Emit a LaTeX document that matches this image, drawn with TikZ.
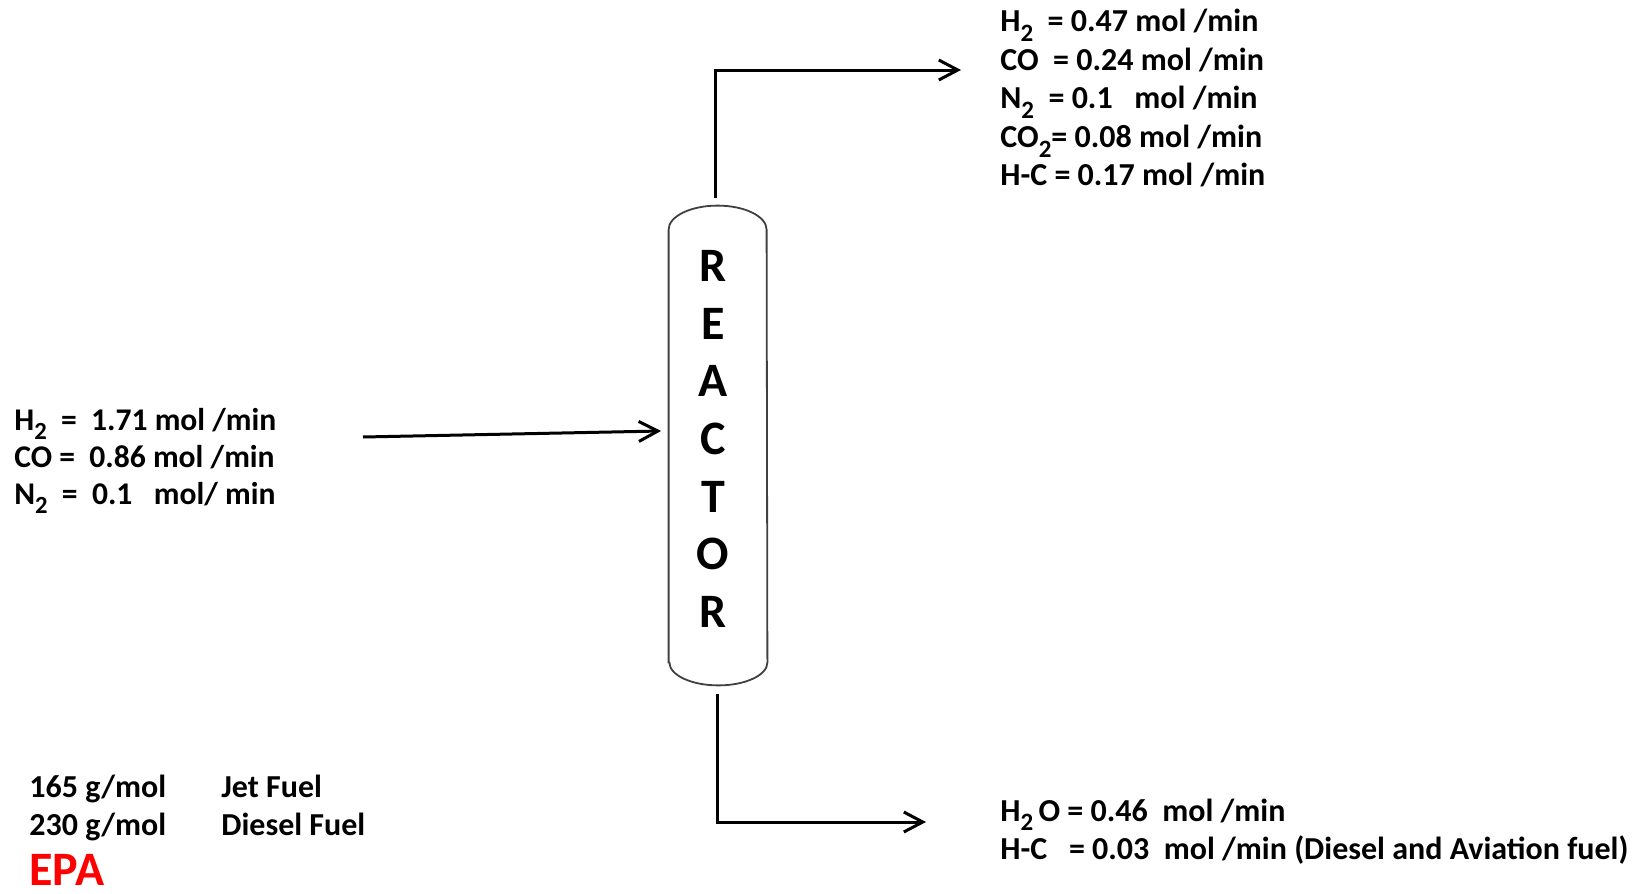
\documentclass[tikz,border=0pt]{standalone}
\usepackage{fontspec}
\setmainfont{Carlito}
\usepackage{graphicx}
\usepackage{tikz}
\usetikzlibrary{arrows.meta,positioning}
\newcommand{\sbs}[1]{\raisebox{-0.3em}{\scalebox{0.78}{#1}}}

\begin{document}
\begin{tikzpicture}[
			x=0.5pt, y=-0.5pt,
			stream/.style={anchor=base west, inner sep=0pt, font=\bfseries\fontsize{16}{19.25}\selectfont},
			vessel/.style={rectangle, minimum width=49pt, minimum height=216pt, inner sep=0pt, align=center, font=\bfseries\fontsize{24}{28.8}\selectfont},
			arrow/.style={-{Straight Barb[length=9.5pt,width=10pt]}, line width=1.5pt}
			]
			\useasboundingbox (0,0) rectangle (1645,894);
			
			% Nodes
			\node[vessel] (reactor) at (718,446) {};
			\draw[line width=0.9pt, draw=black!75] (reactor.south west) -- (reactor.north west)
				arc[start angle=180, end angle=0, x radius=24.5pt, y radius=12pt] -- (reactor.south east)
				arc[start angle=0, end angle=-180, x radius=24.5pt, y radius=11.5pt] -- cycle;
			\node[vessel, minimum height=0pt] (label) at (713,439) {R\\E\\A\\C\\T\\O\\R};
			
			\node[stream, font=\bfseries\fontsize{15.8}{18.5}\selectfont] (feed) at (14,430) {\begin{tabular}[t]{@{}l@{}}
				H\sbs{2}\ \ =\ \ 1.71 mol /min\\
				CO =\ \ 0.86 mol /min\\
				N\sbs{2}\ \ =\ \ 0.1\ \ \ mol/ min
			\end{tabular}};
			\node[stream] (gasout) at (1000,32) {\begin{tabular}[t]{@{}l@{}}
				H\sbs{2}\ \ = 0.47 mol /min\\
				CO\ \ = 0.24 mol /min\\
				N\sbs{2}\ \ = 0.1\ \ \ mol /min\\
				CO\sbs{2}= 0.08 mol /min\\
				H-C = 0.17 mol /min
			\end{tabular}};
			\node[stream, font=\bfseries\fontsize{16}{19.4}\selectfont] (liqout) at (1000,821) {\begin{tabular}[t]{@{}l@{}}
				H\sbs{2}\,O = 0.46\ \ mol /min\\
				H-C\ \ \ = 0.03\ \ mol /min (Diesel and Aviation fuel)
			\end{tabular}};
			\node[stream, font=\bfseries\fontsize{16}{19}\selectfont] (molwt) at (29,797) {\begin{tabular}[t]{@{}l@{}}
				165 g/mol\\
				230 g/mol
			\end{tabular}};
			\node[stream, font=\bfseries\fontsize{16}{19}\selectfont] (fuel) at (221,797) {\begin{tabular}[t]{@{}l@{}}
				Jet Fuel\\
				Diesel Fuel
			\end{tabular}};
			\node[stream, font=\bfseries\fontsize{24}{28}\selectfont, text=red] (epa) at (29,885) {EPA};
			
			% Arrows
			\coordinate (feedstart) at (363,437);
			\coordinate (feedend) at (661,431);
			\coordinate (topout) at (715,198);
			\coordinate (topend) at (961,70);
			\coordinate (botout) at (717,694);
			\coordinate (botend) at (926,822);
			\draw[arrow] (feedstart) -- (feedend);
			\draw[arrow] (topout) |- (topend);
			\draw[arrow] (botout) |- (botend);
		\end{tikzpicture}
\end{document}
